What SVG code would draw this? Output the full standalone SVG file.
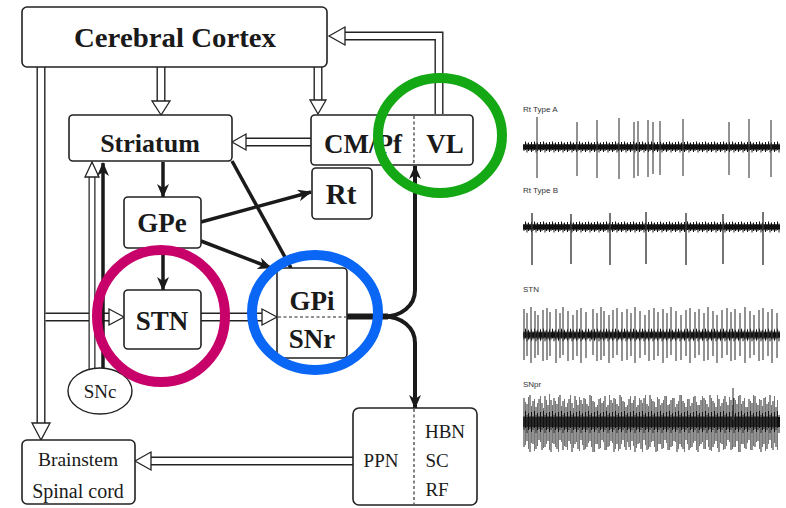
<svg xmlns="http://www.w3.org/2000/svg" width="786" height="508" viewBox="0 0 786 508">
<style>
.box{fill:#fff;stroke:#222;stroke-width:1.6}
.t{font-family:"Liberation Serif","Times New Roman",serif;font-weight:bold;fill:#1a1a1a;text-anchor:middle}
.n{font-family:"Liberation Serif","Times New Roman",serif;fill:#1a1a1a;text-anchor:middle}
.o{fill:none;stroke:#222;stroke-width:9;stroke-linejoin:miter}
.i{fill:none;stroke:#fff;stroke-width:6.2;stroke-linejoin:miter}
.hh{fill:#fff;stroke:#222;stroke-width:1.3}
.blk{fill:none;stroke:#1a1a1a;stroke-width:3.5;marker-end:url(#ah)}
.dash{stroke:#222;stroke-width:1.1;stroke-dasharray:3 2.5;fill:none}
.ring{fill:none;stroke-width:10}
.lab{font-family:"Liberation Sans",Arial,sans-serif;font-size:8px;fill:#333}
.sp{fill:none;stroke:#3a3a3a;stroke-width:1.1}
.sp2{fill:none;stroke:#777;stroke-width:1}
</style>
<defs>
<marker id="ah" viewBox="0 0 14 12" refX="13" refY="6" markerWidth="14" markerHeight="12" markerUnits="userSpaceOnUse" orient="auto">
<path d="M0,0 L14,6 L0,12 L4,6 z" fill="#1a1a1a"/>
</marker>
<pattern id="nz" patternUnits="userSpaceOnUse" x="0" y="-8" width="9" height="16">
<rect x="0" y="5.5" width="9" height="5" fill="#111"/>
<path d="M0.5 3V13M2 5V12M3.5 2.5V11M5 4.5V13.5M6.5 3.5V12M8 5V11.5" stroke="#111" stroke-width="1"/>
</pattern>
</defs>

<g id="connectors">
<g id="vl-cortex"><path class="o" d="M439 114V36H344"/><path class="i" d="M439 114V36H344"/><polygon class="hh" points="329,36 345,27 345,45"/></g>
<g id="cortex-striatum"><path class="o" d="M161 67V102"/><path class="i" d="M161 67V102"/><polygon class="hh" points="161,115 152,101 170,101"/></g>
<g id="cortex-cmpf"><path class="o" d="M318 67V101"/><path class="i" d="M318 67V101"/><polygon class="hh" points="318,114 310,100 326,100"/></g>
<g id="cortex-brainstem"><path class="o" d="M41 67V424"/><path class="i" d="M41 67V424"/><polygon class="hh" points="41,440 32,423 50,423"/></g>
<g id="cmpf-striatum"><path class="o" d="M311 142H245"/><path class="i" d="M311 142H245"/><polygon class="hh" points="232,142 246,134 246,150"/></g>
<g id="cortex-stn"><path class="o" d="M45.5 317H110"/><path class="i" d="M45.5 317H110"/><polygon class="hh" points="124,317 109,309 109,325"/></g>
<g id="stn-gpi"><path class="o" d="M201 317H263"/><path class="i" d="M201 317H263"/><polygon class="hh" points="277,317 262,309 262,325"/></g>
<g id="snc-striatum-hollow"><path class="o" d="M92 369V176" style="stroke-width:7"/><path class="i" d="M92 369V176" style="stroke-width:4.5"/><polygon class="hh" points="92,162 85,177 99,177"/></g>
<g id="ppn-brainstem"><path class="o" d="M353 461H150"/><path class="i" d="M353 461H150"/><polygon class="hh" points="135,461 151,452 151,470"/></g>
<path class="blk" d="M163 162V197"/>
<path class="blk" d="M163 248V290"/>
<path class="blk" d="M201 222L311 192"/>
<path class="blk" d="M201 241L271 268"/>
<path class="blk" d="M232 161L291 268"/>
<path class="blk" d="M103 368V163"/>
<path d="M347 316.5H388" stroke="#1a1a1a" stroke-width="6" fill="none"/>
<path class="blk" d="M384 316.5C401 316.5 415 306 415 290V166" style="stroke-width:4"/>
<path class="blk" d="M384 316.5C401 316.5 415 327 415 343V408" style="stroke-width:4"/>
</g>

<g id="cortex"><rect class="box" x="22" y="7" width="305" height="60" rx="5"/><text class="t" x="175" y="47" font-size="28" textLength="202" lengthAdjust="spacingAndGlyphs">Cerebral Cortex</text></g>
<g id="striatum"><rect class="box" x="69" y="115" width="163" height="46" rx="4"/><text class="t" x="150" y="152" font-size="26">Striatum</text></g>
<g id="cmpf-vl"><rect class="box" x="311" y="115" width="162" height="50" rx="4"/><line class="dash" x1="414" y1="116" x2="414" y2="164"/><text class="t" x="363" y="153" font-size="27">CM/Pf</text><text class="t" x="445" y="153" font-size="27">VL</text></g>
<g id="rt"><rect class="box" x="312" y="168" width="60" height="51" rx="4"/><text class="t" x="341" y="204" font-size="29">Rt</text></g>
<g id="gpe"><rect class="box" x="124" y="197" width="77" height="51" rx="4"/><text class="t" x="162" y="232" font-size="27">GPe</text></g>
<g id="stn"><rect class="box" x="124" y="290" width="77" height="59" rx="4"/><text class="t" x="162" y="330" font-size="27">STN</text></g>
<g id="gpi-snr"><rect class="box" x="277" y="268" width="70" height="90" rx="4"/><line class="dash" x1="278" y1="317" x2="346" y2="317"/><text class="t" x="312" y="310" font-size="27">GPi</text><text class="t" x="312" y="348" font-size="27">SNr</text></g>
<g id="snc"><ellipse cx="100" cy="391" rx="32" ry="23" fill="#fff" stroke="#222" stroke-width="1.4"/><text class="n" x="100" y="398" font-size="19">SNc</text></g>
<g id="brainstem"><rect class="box" x="22" y="440" width="113" height="64" rx="5"/><text class="n" x="78" y="466" font-size="19.5">Brainstem</text><text class="n" x="78" y="498" font-size="20">Spinal cord</text></g>
<g id="ppn"><rect class="box" x="353" y="408" width="124" height="97" rx="6"/><line class="dash" x1="414" y1="409" x2="414" y2="504"/><text class="n" x="381" y="467" font-size="19">PPN</text><text class="n" x="445" y="438" font-size="19">HBN</text><text class="n" x="437" y="467" font-size="19">SC</text><text class="n" x="437" y="496" font-size="19">RF</text></g>

<g id="highlights">
<ellipse class="ring" cx="440" cy="135.5" rx="62" ry="57.5" stroke="#14a814"/>
<ellipse class="ring" cx="161" cy="316" rx="64" ry="66" stroke="#c8006a"/>
<ellipse class="ring" cx="315" cy="312.5" rx="63" ry="57.5" stroke="#0a66f5"/>
</g>

<g id="traces">
<text class="lab" x="523" y="112">Rt Type A</text>
<g transform="translate(0,147)"><rect x="523" y="-8" width="257" height="16" fill="url(#nz)"/></g>
<path class="sp" d="M537 117V178M577 122V176M597 120V178M619 118V179M634 122V178M638 121V176M648 120V177M653 122V174M660 121V175M683 119V176M729 122V175M749 119V178M771 120V177"/>

<text class="lab" x="523" y="193">Rt Type B</text>
<g transform="translate(0,227)"><rect x="523" y="-8" width="257" height="16" fill="url(#nz)"/></g>
<path class="sp" d="M532 213V265M571 214V264M610 213V265M646 212V264M686 213V265M723 214V264M763 212V265" style="stroke-width:1.4"/>

<text class="lab" x="523" y="292">STN</text>
<g transform="translate(0,335) scale(1,1.15)"><rect x="523" y="-8" width="257" height="16" fill="url(#nz)"/></g>
<path class="sp" d="M524 309V360M527 313V356M531 307V363M535 311V358M538 315V355M543 310V361M547 308V360M550 312V356M556 309V363M560 313V358M563 307V355M568 311V361M573 315V360M577 310V356M581 308V363M586 312V358M593 309V355M597 313V361M601 307V360M604 311V356M609 315V363M613 310V358M617 308V355M622 312V361M627 309V360M631 313V356M635 307V363M640 311V358M645 315V355M649 310V361M654 308V360M658 312V356M663 309V363M667 313V358M671 307V355M676 311V361M681 315V360M686 310V356M690 308V363M695 312V358M699 309V355M704 313V361M708 307V360M713 311V356M717 315V363M722 310V358M727 308V355M731 312V361M735 309V360M740 313V356M745 307V363M750 311V358M754 315V355M759 310V361M763 308V360M768 312V356M772 309V363M777 313V358"/>

<text class="lab" x="523" y="387">SNpr</text>
<path class="sp2" d="M525.5 402V445M528.5 397V449M531.5 406V443M534.5 399V451M537.5 403V446M540.5 396V442M543.5 408V448M546.5 400V444M549.5 394V450M552.5 405V443M555.5 401V447M558.5 397V452M561.5 406V442M564.5 399V446M567.5 403V450M570.5 395V444M573.5 408V448M576.5 400V442M579.5 397V451M582.5 404V445M585.5 399V449M588.5 406V443M591.5 396V447M594.5 402V452M597.5 405V444M600.5 398V448M603.5 401V442M606.5 407V450M609.5 395V446M612.5 403V443M615.5 399V449M618.5 406V451M621.5 397V444M624.5 402V447M627.5 405V442M630.5 396V450M633.5 400V446M636.5 407V448M639.5 398V443M642.5 403V452M645.5 395V445M648.5 406V449M651.5 399V442M654.5 402V447M657.5 397V451M660.5 405V444M663.5 400V448M666.5 396V443M669.5 404V450M672.5 398V446M675.5 407V442M678.5 401V449M681.5 395V447M684.5 403V452M687.5 399V444M690.5 406V448M693.5 397V443M696.5 402V450M699.5 405V446M702.5 396V442M705.5 400V449M708.5 407V447M711.5 398V451M714.5 403V444M717.5 395V448M720.5 406V443M723.5 399V450M726.5 402V446M729.5 397V442M732.5 405V449M735.5 400V447M738.5 396V452M741.5 404V444M744.5 398V448M747.5 407V443M750.5 401V450M753.5 395V446M756.5 403V442M759.5 399V449M762.5 406V447M765.5 397V451M768.5 402V444M771.5 405V448M774.5 396V443M777.5 400V450"/>
<g transform="translate(0,422) scale(1,2)"><rect x="523" y="-8" width="257" height="16" fill="url(#nz)"/></g>
<path class="sp" d="M524 398V447M527 404V441M530 395V452M533 401V444M536 407V449M539 399V440M542 403V450M545 396V447M548 405V441M551 400V452M554 398V444M557 404V449M560 395V440M563 401V450M566 407V447M569 399V441M572 403V452M575 396V444M578 405V449M581 400V440M584 398V450M587 404V447M590 395V441M593 401V452M596 407V444M599 399V449M602 403V440M605 396V450M608 405V447M611 400V441M614 398V452M617 404V444M620 395V449M623 401V440M626 407V450M629 399V447M632 403V441M635 396V452M638 405V444M641 400V449M644 398V440M647 404V450M650 395V447M653 401V441M656 407V452M659 399V444M662 403V449M665 396V440M668 405V450M671 400V447M674 398V441M677 404V452M680 395V444M683 401V449M686 407V440M689 399V450M692 403V447M695 396V441M698 405V452M701 400V444M704 398V449M707 404V440M710 395V450M713 401V447M716 407V441M719 399V452M722 403V444M725 396V449M728 405V440M731 400V450M733 388V420M734 398V447M737 404V441M740 395V452M743 401V444M746 407V449M749 399V440M752 403V450M755 396V447M758 405V441M761 400V452M764 398V444M767 404V449M770 395V440M773 401V450M776 407V447"/>
</g>
</svg>
